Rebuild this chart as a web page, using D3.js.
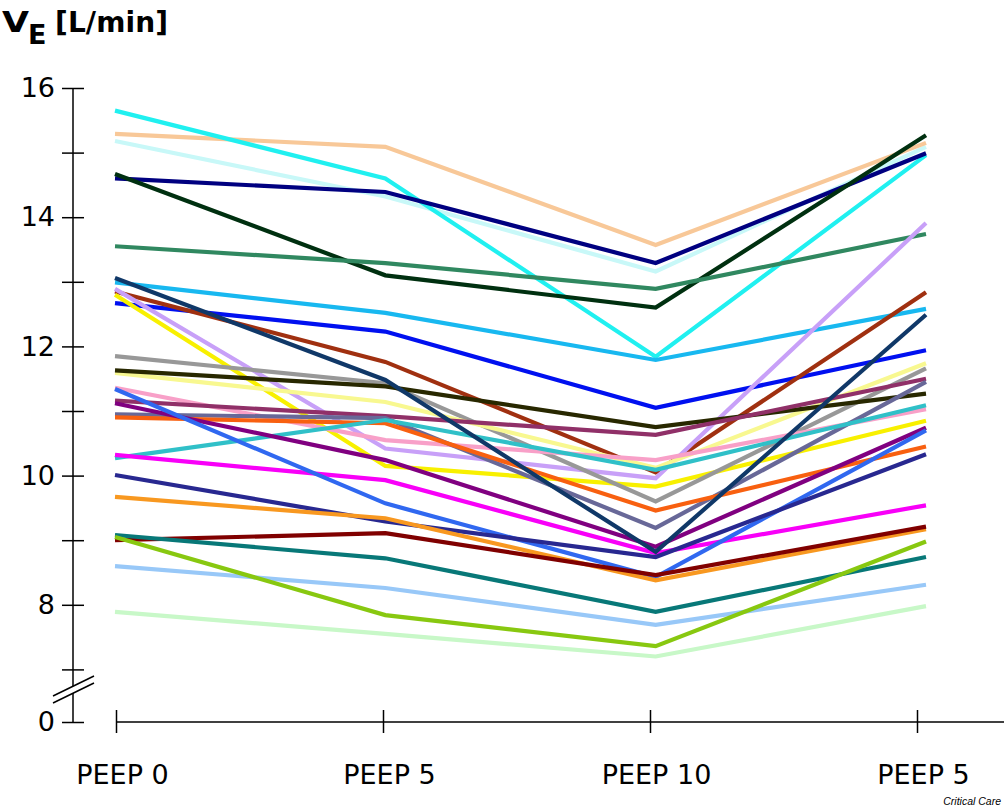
<!DOCTYPE html>
<html>
<head>
<meta charset="utf-8">
<script src="https://cdn.jsdelivr.net/npm/d3@7"></script>
<style>
  body { margin: 0; background: #fff; }
  text { font-family: "DejaVu Sans", Verdana, sans-serif; fill: #000; }
</style>
</head>
<body>
<svg id="chart" width="1004" height="807"></svg>
<script>
// measurement points along the x axis
const categories = ["PEEP 0", "PEEP 5", "PEEP 10", "PEEP 5 "];
const tickLabels = ["PEEP 0", "PEEP 5", "PEEP 10", "PEEP 5"];

// one entry per patient, same order in every array
const colors = [
  "#c8f8f8", "#f8c898", "#20f0f0", "#000080", "#003010", "#308860",
  "#18b8f0", "#0010f0", "#a03010", "#c8a0f8", "#f8f000", "#989898",
  "#f8f890", "#282800", "#f8a0c8", "#903068", "#686898", "#f86010",
  "#30c0c8", "#800080", "#f800f8", "#3068f0", "#282890", "#f89820",
  "#800000", "#087878", "#98c8f8", "#c8f8c8", "#88c810", "#103868"
];
const peep0 = [
  15.18, 15.29, 15.65, 14.60, 14.67, 13.55,
  12.99, 12.67, 12.85, 12.89, 12.80, 11.85,
  11.59, 11.63, 11.36, 11.16, 10.95, 10.90,
  10.27, 11.12, 10.32, 11.34, 10.01, 9.67,
  9.00, 9.08, 8.60, 7.89, 9.05, 13.06
];
const peep5a = [
  14.32, 15.09, 14.60, 14.39, 13.10, 13.29,
  12.52, 12.23, 11.76, 10.42, 10.15, 11.43,
  11.14, 11.38, 10.55, 10.92, 10.89, 10.81,
  10.86, 10.24, 9.93, 9.57, 9.29, 9.34,
  9.11, 8.72, 8.26, 7.55, 7.84, 11.48
];
const peep10 = [
  13.16, 13.57, 11.84, 13.29, 12.60, 12.89,
  11.79, 11.05, 10.05, 9.96, 9.83, 9.60,
  10.12, 10.75, 10.24, 10.63, 9.19, 9.46,
  10.09, 8.90, 8.80, 8.43, 8.74, 8.38,
  8.46, 7.89, 7.69, 7.20, 7.36, 8.82
];
const peep5b = [
  15.09, 15.15, 14.96, 14.99, 15.27, 13.74,
  12.58, 11.94, 12.84, 13.91, 10.85, 11.66,
  11.74, 11.27, 11.03, 11.50, 11.45, 10.45,
  11.09, 10.74, 9.54, 10.70, 10.33, 9.17,
  9.21, 8.74, 8.31, 7.98, 8.98, 12.49
];
const yTicks = [7, 8, 9, 10, 11, 12, 13, 14, 15, 16];
const yLabels = [8, 10, 12, 14, 16];

const svg = d3.select("#chart");

const x = d3.scalePoint().domain(categories).range([115, 926]);
const xTick = d3.scalePoint().domain(categories).range([116, 917]);
const y = d3.scaleLinear().domain([7, 16]).range([669.4, 88]);
const yLow = d3.scaleLinear().domain([0, 1]).range([722, 657.4]);
const axisX = 73;

const series = colors.map((c, i) => ({
  color: c,
  values: [peep0[i], peep5a[i], peep10[i], peep5b[i]]
}));

const line = d3.line()
    .x((d, i) => x(categories[i]))
    .y(d => y(d));

svg.append("g")
    .selectAll("path")
    .data(series)
    .enter().append("path")
    .attr("d", d => line(d.values))
    .attr("fill", "none")
    .attr("stroke", d => d.color)
    .attr("stroke-width", 4.2);

// y axis, ticks cross the line
const gy = svg.append("g")
    .attr("transform", "translate(" + axisX + ",0)")
    .call(d3.axisLeft(y).tickValues(yTicks).tickSize(11).tickPadding(7)
        .tickFormat(d => yLabels.includes(d) ? d : ""));
gy.select(".domain").remove();
gy.selectAll(".tick line").attr("x1", 11).attr("x2", -11).attr("stroke-width", 1.5);
gy.selectAll("text").attr("font-size", 27);

const gy0 = svg.append("g")
    .attr("transform", "translate(" + axisX + ",0)")
    .call(d3.axisLeft(yLow).tickValues([0]).tickSize(11).tickPadding(7)
        .tickFormat(d3.format("d")));
gy0.select(".domain").remove();
gy0.selectAll(".tick line").attr("x2", 11).attr("x1", -11).attr("stroke-width", 1.5);
gy0.selectAll("text").attr("font-size", 27);

svg.append("line")
    .attr("x1", axisX).attr("x2", axisX)
    .attr("y1", y(16)).attr("y2", 686)
    .attr("stroke", "#000").attr("stroke-width", 1.5);
svg.append("line")
    .attr("x1", axisX).attr("x2", axisX)
    .attr("y1", 693).attr("y2", yLow(0))
    .attr("stroke", "#000").attr("stroke-width", 1.5);

// axis break marks
[0, 7].forEach(off => {
  svg.append("line")
      .attr("x1", 53).attr("y1", 696 + off)
      .attr("x2", 94).attr("y2", 676 + off)
      .attr("stroke", "#000").attr("stroke-width", 1.5);
});

// x axis
svg.append("line")
    .attr("x1", xTick(categories[0])).attr("x2", 1004)
    .attr("y1", 722).attr("y2", 722)
    .attr("stroke", "#000").attr("stroke-width", 1.5);

const gx = svg.append("g")
    .attr("transform", "translate(0,722)")
    .call(d3.axisBottom(xTick).tickSize(11).tickPadding(0)
        .tickFormat((d, i) => tickLabels[i]));
gx.select(".domain").remove();
gx.selectAll(".tick line").attr("y1", -12).attr("y2", 11).attr("stroke-width", 1.5);
gx.selectAll("text")
    .attr("font-size", 27)
    .attr("dy", 0)
    .attr("y", 62)
    .attr("dx", 6);

// title
svg.append("text")
    .attr("x", 2).attr("y", 32)
    .attr("font-size", 28).attr("font-weight", "bold")
    .attr("textLength", 27).attr("lengthAdjust", "spacingAndGlyphs")
    .text("V");
svg.append("text")
    .attr("x", 28).attr("y", 44)
    .attr("font-size", 27).attr("font-weight", "bold")
    .text("E");
svg.append("text")
    .attr("x", 55).attr("y", 32)
    .attr("font-size", 28).attr("font-weight", "bold")
    .attr("textLength", 113).attr("lengthAdjust", "spacing")
    .text("[L/min]");

svg.append("text")
    .attr("x", 1001)
    .attr("y", 805)
    .attr("text-anchor", "end")
    .attr("font-size", 10.5)
    .attr("font-style", "italic")
    .style("font-family", "'Liberation Sans', Arial, sans-serif")
    .text("Critical Care");
</script>
</body>
</html>
